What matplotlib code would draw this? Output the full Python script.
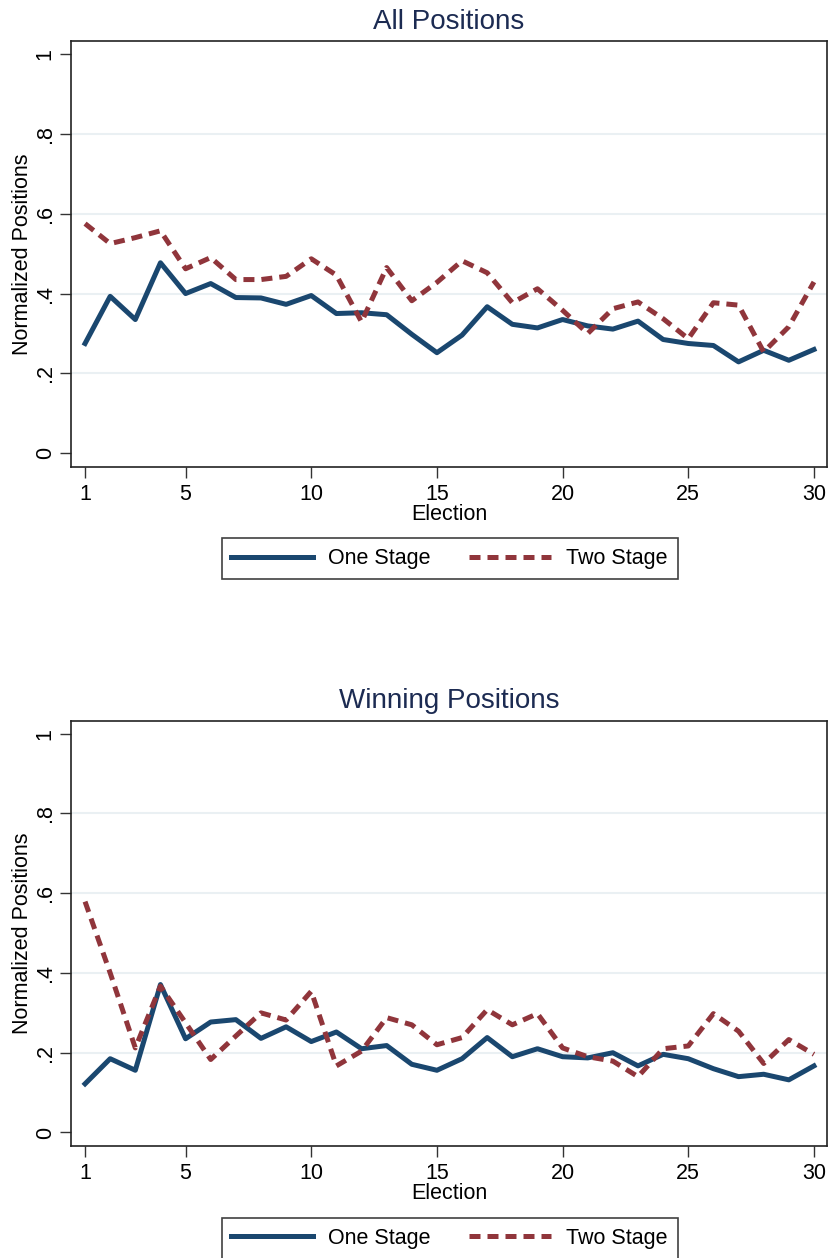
import numpy as np
import matplotlib.pyplot as plt

plt.rcParams['font.family'] = ['Liberation Sans', 'DejaVu Sans']

# election index
election = np.arange(1, 31)

# all positions
one_all = [0.275, 0.393, 0.335, 0.477, 0.400, 0.425, 0.390, 0.389, 0.373, 0.395,
           0.350, 0.352, 0.347, 0.298, 0.252, 0.296, 0.367, 0.323, 0.314, 0.335,
           0.319, 0.311, 0.331, 0.285, 0.275, 0.270, 0.229, 0.258, 0.233, 0.260]
two_all = [0.575, 0.525, 0.540, 0.557, 0.462, 0.490, 0.435, 0.435, 0.443, 0.487,
           0.446, 0.329, 0.465, 0.382, 0.428, 0.482, 0.452, 0.377, 0.412, 0.358,
           0.300, 0.362, 0.379, 0.337, 0.287, 0.377, 0.371, 0.254, 0.317, 0.429]

# winning positions
one_win = [0.122, 0.185, 0.156, 0.371, 0.235, 0.277, 0.283, 0.236, 0.265, 0.228,
           0.252, 0.210, 0.218, 0.171, 0.156, 0.185, 0.238, 0.190, 0.210, 0.190,
           0.187, 0.200, 0.167, 0.196, 0.185, 0.160, 0.140, 0.146, 0.132, 0.167]
two_win = [0.579, 0.400, 0.212, 0.367, 0.275, 0.183, 0.242, 0.300, 0.282, 0.354,
           0.167, 0.204, 0.288, 0.270, 0.220, 0.238, 0.308, 0.270, 0.298, 0.212,
           0.190, 0.179, 0.140, 0.210, 0.217, 0.298, 0.254, 0.173, 0.233, 0.196]

xticks = [1, 5, 10, 15, 20, 25, 30]
yticks = [0, 0.2, 0.4, 0.6, 0.8, 1.0]
ytick_labels = ['0', '.2', '.4', '.6', '.8', '1']
grid_vals = [0.2, 0.4, 0.6, 0.8]

navy = '#1a476f'
maroon = '#90353b'
title_col = '#1c2b52'

fig = plt.figure(figsize=(8.31, 12.58), dpi=100)

panels = [
    ("All Positions", one_all, two_all, [0.0854, 0.6288, 0.9098, 0.3386], 0.556),
    ("Winning Positions", one_win, two_win, [0.0854, 0.0890, 0.9098, 0.3379], 0.0155),
]

for title, one, two, rect, leg_y in panels:
    ax = fig.add_axes(rect)
    for g in grid_vals:
        ax.axhline(g, color='#eaf0f3', lw=1.5, zorder=0)
    ax.plot(election, one, color=navy, lw=3.6, label='One Stage', zorder=3)
    ax.plot(election, two, color=maroon, lw=3.6, ls=(0, (2.2, 1.4)),
            dash_capstyle='butt', label='Two Stage', zorder=4)

    ax.set_xlim(0.44, 30.52)
    ax.set_ylim(-0.034, 1.032)
    ax.set_xticks(xticks)
    ax.set_yticks(yticks)
    ax.set_yticklabels(ytick_labels, rotation=90, va='center')
    ax.tick_params(axis='both', length=8, width=1, labelsize=15.5, color='#333333')
    ax.tick_params(axis='x', pad=4)
    ax.tick_params(axis='y', pad=3)
    for s in ax.spines.values():
        s.set_linewidth(1.2)
        s.set_color('#222222')

    ax.set_title(title, fontsize=20, color=title_col, pad=9)
    ax.set_xlabel('Election', fontsize=15.5)
    ax.xaxis.set_label_coords(0.5, -0.088)
    ax.set_ylabel('Normalized Positions', fontsize=15.5)
    ax.yaxis.set_label_coords(-0.05, 0.5)

    leg = ax.legend(loc='center', bbox_to_anchor=(0.541, leg_y),
                    bbox_transform=fig.transFigure, ncol=2, fontsize=15.5,
                    frameon=True, fancybox=False, handlelength=3.8,
                    handletextpad=0.7, columnspacing=1.8, borderpad=0.45,
                    borderaxespad=0)
    leg.get_frame().set_edgecolor('#111111')
    leg.get_frame().set_linewidth(1.2)

fig.savefig('out.png', dpi=100)
